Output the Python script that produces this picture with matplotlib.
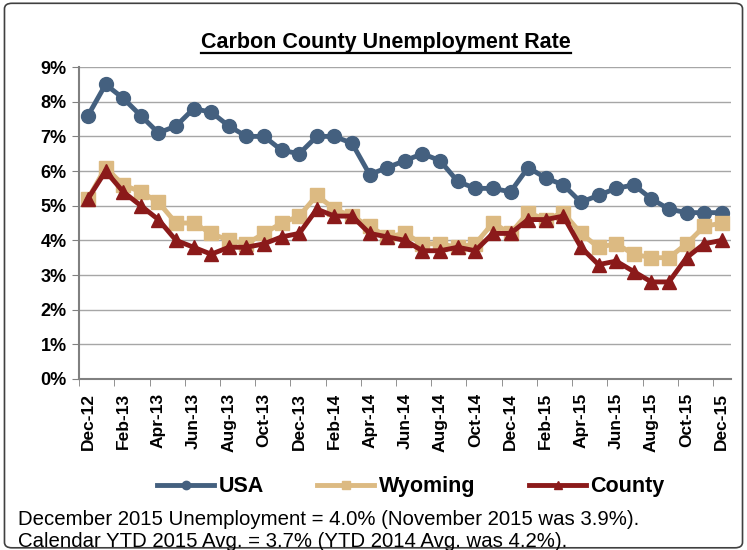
import matplotlib.pyplot as plt
from matplotlib.patches import FancyBboxPatch
from matplotlib.ticker import FuncFormatter

plt.rcParams['font.family'] = ['Liberation Sans', 'DejaVu Sans']

months = ['Dec-12', 'Jan-13', 'Feb-13', 'Mar-13', 'Apr-13', 'May-13', 'Jun-13', 'Jul-13',
          'Aug-13', 'Sep-13', 'Oct-13', 'Nov-13', 'Dec-13', 'Jan-14', 'Feb-14', 'Mar-14',
          'Apr-14', 'May-14', 'Jun-14', 'Jul-14', 'Aug-14', 'Sep-14', 'Oct-14', 'Nov-14',
          'Dec-14', 'Jan-15', 'Feb-15', 'Mar-15', 'Apr-15', 'May-15', 'Jun-15', 'Jul-15',
          'Aug-15', 'Sep-15', 'Oct-15', 'Nov-15', 'Dec-15']

usa = [7.6, 8.5, 8.1, 7.6, 7.1, 7.3, 7.8, 7.7, 7.3, 7.0, 7.0, 6.6, 6.5,
       7.0, 7.0, 6.8, 5.9, 6.1, 6.3, 6.5, 6.3, 5.7, 5.5, 5.5, 5.4,
       6.1, 5.8, 5.6, 5.1, 5.3, 5.5, 5.6, 5.2, 4.9, 4.8, 4.8, 4.8]
wyoming = [5.2, 6.1, 5.6, 5.4, 5.1, 4.5, 4.5, 4.2, 4.0, 3.9, 4.2, 4.5, 4.7,
           5.3, 4.9, 4.7, 4.4, 4.1, 4.2, 3.9, 3.9, 3.8, 3.9, 4.5, 4.2,
           4.8, 4.6, 4.8, 4.2, 3.8, 3.9, 3.6, 3.5, 3.5, 3.9, 4.4, 4.5]
county = [5.2, 6.0, 5.4, 5.0, 4.6, 4.0, 3.8, 3.6, 3.8, 3.8, 3.9, 4.1, 4.2,
          4.9, 4.7, 4.7, 4.2, 4.1, 4.0, 3.7, 3.7, 3.8, 3.7, 4.2, 4.2,
          4.6, 4.6, 4.7, 3.8, 3.3, 3.4, 3.1, 2.8, 2.8, 3.5, 3.9, 4.0]

fig = plt.figure(figsize=(7.47, 5.5), dpi=100)
ax = fig.add_axes([0.106, 0.311, 0.872, 0.567])

x = list(range(len(months)))
ax.plot(x, usa, color='#44607f', lw=3.5, marker='o', ms=10, label='USA', zorder=3)
ax.plot(x, wyoming, color='#dcba82', lw=3.5, marker='s', ms=10, label='Wyoming', zorder=4)
ax.plot(x, county, color='#8b1a1a', lw=3.5, marker='^', ms=10.5, label='County', zorder=5)

ax.set_xlim(-0.5, len(months) - 0.5)
ax.set_ylim(0, 9)
ax.set_yticks(range(0, 10))
ax.yaxis.set_major_formatter(FuncFormatter(lambda v, p: f'{int(v)}%'))
ax.grid(axis='y', color='#a6a6a6', lw=1)
ax.set_axisbelow(True)

ax.set_xticks(x[::2])
ax.set_xticklabels(months[::2], rotation=90, fontweight='bold', fontsize=12.5)
ax.tick_params(axis='x', which='major', length=0, pad=10)
ax.set_xticks([i - 0.5 for i in x[::2]], minor=True)
ax.tick_params(axis='x', which='minor', length=5, color='#808080', direction='out')
ax.tick_params(axis='y', length=5, color='#808080', labelsize=13, pad=4)
for lab in ax.get_yticklabels():
    lab.set_fontweight('bold')

for s in ['top', 'right']:
    ax.spines[s].set_visible(False)
for s in ['left', 'bottom']:
    ax.spines[s].set_color('#808080')
    ax.spines[s].set_linewidth(1.5)

title = fig.text(0.517, 0.922, 'Carbon County Unemployment Rate', ha='center', va='center',
                 fontsize=15.5, fontweight='bold')
fig.canvas.draw()
bb = title.get_window_extent().transformed(fig.transFigure.inverted())
fig.add_artist(plt.Line2D([bb.x0, bb.x1], [bb.y0 + 0.001, bb.y0 + 0.001], color='black', lw=1.6))

ax.legend(loc='center', bbox_to_anchor=(0.55, 0.115), bbox_transform=fig.transFigure, ncol=3,
          frameon=False, prop={'weight': 'bold', 'size': 15.5}, handlelength=2.65,
          handletextpad=0.2, columnspacing=2.5, markerscale=0.6)

fig.text(0.024, 0.056, 'December 2015 Unemployment = 4.0% (November 2015 was 3.9%).',
         fontsize=14.7, va='center')
fig.text(0.024, 0.016, 'Calendar YTD 2015 Avg. = 3.7% (YTD 2014 Avg. was 4.2%).',
         fontsize=14.7, va='center')

fig.add_artist(FancyBboxPatch((0.006, 0.004), 0.988, 0.99, boxstyle='round,pad=0,rounding_size=0.01',
                              transform=fig.transFigure, fill=False, ec='#404040', lw=1.2))

fig.savefig('out.png', dpi=100)
